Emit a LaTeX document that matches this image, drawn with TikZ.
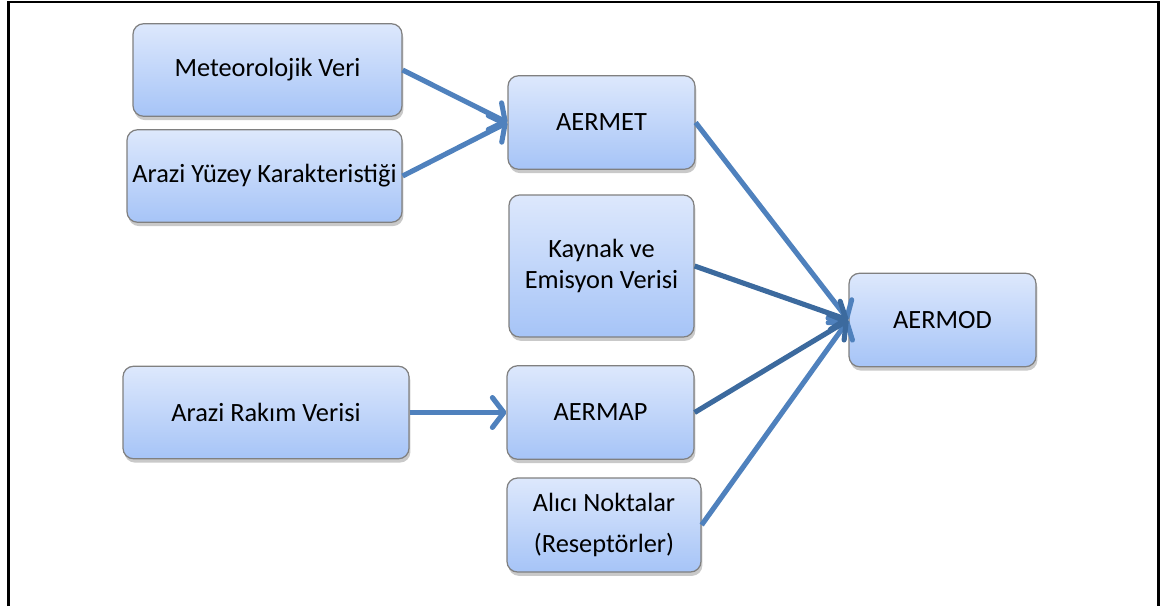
\documentclass[tikz,border=0pt]{standalone}
\usepackage{fontspec}
\setmainfont{Carlito}
\usetikzlibrary{shadows}
\usetikzlibrary{arrows.meta}
\definecolor{boxtop}{HTML}{DDE8FC}
\definecolor{boxbot}{HTML}{A6C4F7}
\definecolor{boxline}{HTML}{808080}
\definecolor{flowblue}{HTML}{4F81BD}
\definecolor{flowdark}{HTML}{3C6A9E}
\tikzstyle{block}=[rectangle,rounded corners=6pt,draw=boxline,line width=0.7pt,top color=boxtop,bottom color=boxbot,drop shadow={shadow xshift=0.8pt,shadow yshift=-2.2pt,opacity=0.3,fill=black!70},font=\fontsize{15}{17.5}\selectfont,align=center,inner sep=0pt]
\tikzstyle{flow} = [draw=flowblue,line width=2.9pt,-{Straight Barb[length=6.5pt,width=17pt,round]}]
\tikzstyle{darkflow} = [flow,draw=flowdark]

\begin{document}
\begin{tikzpicture}
    \useasboundingbox (0,0) rectangle (23.22,-12.12);
    % open frame round the picture
    \draw[line width=1.4pt] (0.17,-12.12) -- (0.17,-0.04) -- (23.17,-0.04) -- (23.17,-12.12);

    % First we draw the input boxes
    \foreach \pos/\name/\w/\txt in {{(5.35,-1.40)/meteo/5.38/{Meteorolojik Veri}},
                                    {(5.29,-3.52)/yuzey/5.50/{Arazi Yüzey Karakteristiği}},
                                    {(5.32,-8.25)/rakim/5.72/{Arazi Rakım Verisi}}}
        \node[block,minimum width=\w cm,minimum height=1.85cm] (\name) at \pos {\txt};

    % then the processors
    \foreach \pos/\name/\txt in {{(12.03,-2.45)/aermet/{AERMET}},
                                 {(12.01,-8.25)/aermap/{AERMAP}},
                                 {(18.85,-6.40)/aermod/{AERMOD}}}
        \node[block,minimum width=3.74cm,minimum height=1.87cm] (\name) at \pos {\txt};

    \node[block,minimum width=3.70cm,minimum height=2.84cm] (kaynak) at (12.03,-5.32) {Kaynak ve\\Emisyon Verisi};
    \node[block,minimum width=3.88cm,minimum height=1.88cm] (alici) at (12.08,-10.50) {Alıcı Noktalar\\[6pt](Reseptörler)};

    % Connect boxes with arrows
    \foreach \source/\dest in {meteo/aermet, yuzey/aermet, rakim/aermap, aermet/aermod, alici/aermod}
        \path[flow] (\source.east) -- (\dest.west);

    \foreach \source/\dest in {kaynak/aermod, aermap/aermod}
        \path[darkflow] (\source.east) -- (\dest.west);

\end{tikzpicture}
\end{document}
